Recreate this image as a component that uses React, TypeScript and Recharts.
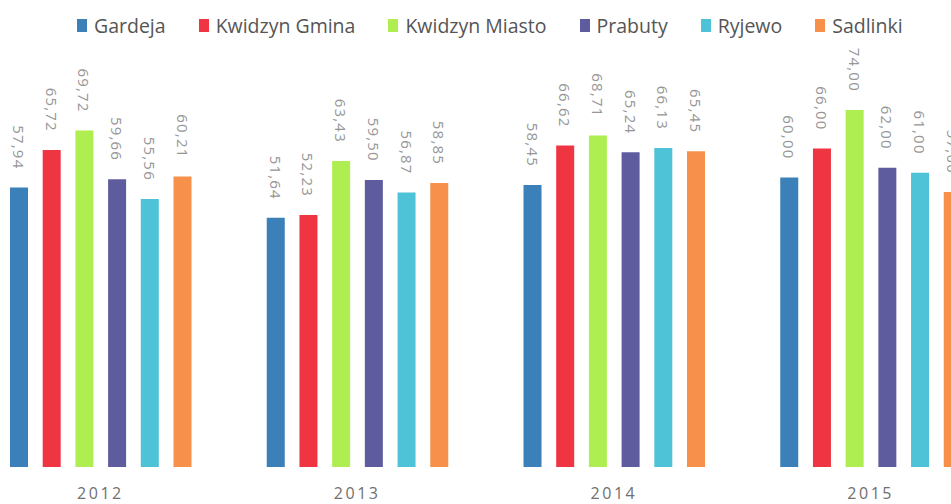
import { BarChart, Bar, XAxis, YAxis, Legend, LabelList } from 'recharts'

const years = ['2012', '2013', '2014', '2015']
const gardeja = [57.94, 51.64, 58.45, 60.0]
const kwidzynGmina = [65.72, 52.23, 66.62, 66.0]
const kwidzynMiasto = [69.72, 63.43, 68.71, 74.0]
const prabuty = [59.66, 59.5, 65.24, 62.0]
const ryjewo = [55.56, 56.87, 66.13, 61.0]
const sadlinki = [60.21, 58.85, 65.45, 57.0]

const series = [
  { key: 'Gardeja', values: gardeja, color: '#3b80b9' },
  { key: 'Kwidzyn Gmina', values: kwidzynGmina, color: '#ef3442' },
  { key: 'Kwidzyn Miasto', values: kwidzynMiasto, color: '#aeee50' },
  { key: 'Prabuty', values: prabuty, color: '#5f5b9f' },
  { key: 'Ryjewo', values: ryjewo, color: '#4ec3d8' },
  { key: 'Sadlinki', values: sadlinki, color: '#f6904a' },
]

const data = years.map((y, i) => {
  const row: any = { year: y }
  series.forEach(s => { row[s.key] = s.values[i] })
  return row
})

const FONT = '"Open Sans", "DejaVu Sans", sans-serif'

const fmt = (v: number) => v.toFixed(2).replace('.', ',')

const ValueLabel = (props: any) => {
  const { x, y, width, value } = props
  const cx = x + width / 2
  const ty = y - 18
  return (
    <text
      x={cx} y={ty}
      transform={`rotate(90, ${cx}, ${ty})`}
      textAnchor="end"
      dominantBaseline="central"
      fill="#969696"
      fontSize={15}
      letterSpacing={1.2}
      fontFamily={FONT}
    >
      {fmt(value)}
    </text>
  )
}

const YearTick = ({ x, y, payload }: any) => (
  <text
    x={x} y={y + 13} dy="0.71em"
    textAnchor="middle" fill="#707070"
    fontSize={16} letterSpacing={2.5} fontFamily={FONT}
  >
    {payload.value}
  </text>
)

const TopLegend = () => (
  <div style={{ display: 'flex', alignItems: 'center', height: 24, fontFamily: FONT, fontSize: 19.5, color: '#555' }}>
    {series.map(s => (
      <div key={s.key} style={{ display: 'flex', alignItems: 'center', marginRight: 33 }}>
        <span style={{ width: 10, height: 13, background: s.color, display: 'inline-block', marginRight: 7 }} />
        <span>{s.key}</span>
      </div>
    ))}
  </div>
)

export default function App() {
  return (
    <div style={{ position: 'absolute', left: 0, top: 0, width: 951, height: 504, overflow: 'hidden', background: '#fff' }}>
      <div style={{ position: 'absolute', left: -28, top: 0 }}>
        <BarChart
          width={1027} height={504} data={data}
          margin={{ top: 57, right: 0, left: 0, bottom: 0 }}
          barSize={18} barGap={14.7}
        >
          <XAxis dataKey="year" height={37} axisLine={false} tickLine={false} tick={<YearTick />} interval={0} />
          <YAxis hide domain={[0, 80]} />
          <Legend
            verticalAlign="top"
            content={<TopLegend />}
            wrapperStyle={{ top: 13, left: 105, width: 'auto', height: 24 }}
          />
          {series.map(s => (
            <Bar key={s.key} dataKey={s.key} fill={s.color} isAnimationActive={false}>
              <LabelList dataKey={s.key} content={<ValueLabel />} />
            </Bar>
          ))}
        </BarChart>
      </div>
    </div>
  )
}
